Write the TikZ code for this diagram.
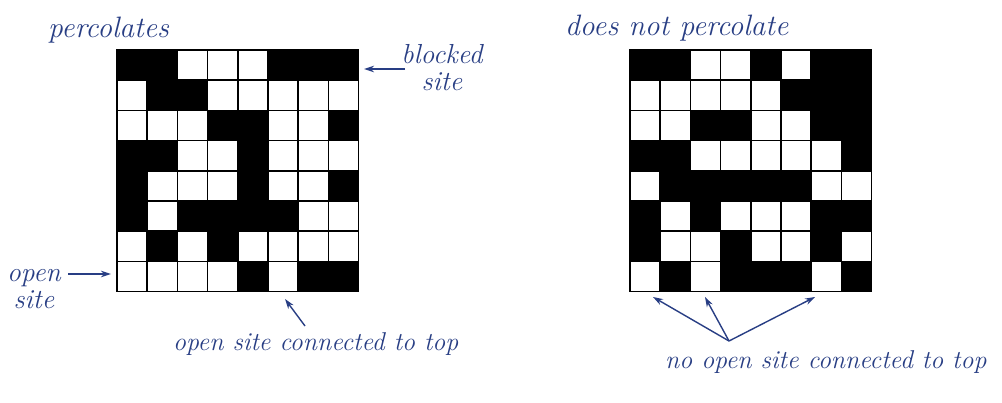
\documentclass[tikz,border=0pt]{standalone}
\usetikzlibrary{arrows.meta}
\definecolor{lbl}{RGB}{40,62,132}
\newcommand\percgrid[3]{%
  \foreach \row [count=\r from 0] in {#3} {
    \foreach \v [count=\c from 0] in \row {
      \ifnum\v=1 \fill[black] (#1+\c*30.2, #2+\r*30.2) rectangle ++(30.2,30.2); \fi
    }
  }
  \foreach \k in {0,...,8} {
    \draw[gridline] (#1+\k*30.2, #2) -- ++(0, 241.6);
    \draw[gridline] (#1, #2+\k*30.2) -- ++(241.6, 0);
  }
}
\begin{document}
\begin{tikzpicture}[x=1pt,y=-1pt,
  title/.style={text=lbl, font=\fontsize{29.5}{32}\selectfont\itshape, inner sep=0pt},
  lab/.style={text=lbl, font=\fontsize{27.5}{27}\selectfont\itshape, inner sep=0pt, align=center},
  longlab/.style={text=lbl, font=\fontsize{25.8}{28}\selectfont\itshape, inner sep=0pt},
  ptr/.style={draw=lbl, line width=1.4pt, -{Stealth[length=10pt,width=6.5pt]}},
  gridline/.style={line width=1.6pt, line cap=rect}]
\useasboundingbox[fill=white] (0,0) rectangle (1002,402);

% left grid (percolates)
\percgrid{117}{50}{{1,1,0,0,0,1,1,1},{0,1,1,0,0,0,0,0},{0,0,0,1,1,0,0,1},{1,1,0,0,1,0,0,0},{1,0,0,0,1,0,0,1},{1,0,1,1,1,1,0,0},{0,1,0,1,0,0,0,0},{0,0,0,0,1,0,1,1}}
% right grid (does not percolate)
\percgrid{630}{50}{{1,1,0,0,1,0,1,1},{0,0,0,0,0,1,1,1},{0,0,1,1,0,0,1,1},{1,1,0,0,0,0,0,1},{0,1,1,1,1,1,0,0},{1,0,1,0,0,0,1,1},{1,0,0,1,0,0,1,0},{0,1,0,1,1,1,0,1}}

% titles
\node[title, anchor=base west] (perc) at (48,37) {percolates};
\node[title, anchor=base west] (dnp) at (565,35) {does not percolate};

% labels
\node[lab] (blk) at (442,68) {blocked\\site};
\node[lab] (opn) at (34,289) {open\\site};
\node[longlab, anchor=base west] (conn) at (173,350) {open site connected to top};
\node[longlab, anchor=base west] (noconn) at (665,368) {no open site connected to top};

% pointers
\coordinate (blkT) at (405,69);
\coordinate (blkH) at (364,69);
\draw[ptr] (blkT) -- (blkH);
\coordinate (opnT) at (68,274);
\coordinate (opnH) at (111,274);
\draw[ptr] (opnT) -- (opnH);
\coordinate (connT) at (305,326);
\coordinate (connH) at (285,299);
\draw[ptr] (connT) -- (connH);
\coordinate (noT) at (729,341);
\coordinate (noH1) at (653,297);
\coordinate (noH2) at (705,297);
\coordinate (noH3) at (815,297);
\draw[ptr] (noT) -- (noH1);
\draw[ptr] (noT) -- (noH2);
\draw[ptr] (noT) -- (noH3);
\end{tikzpicture}
\end{document}
